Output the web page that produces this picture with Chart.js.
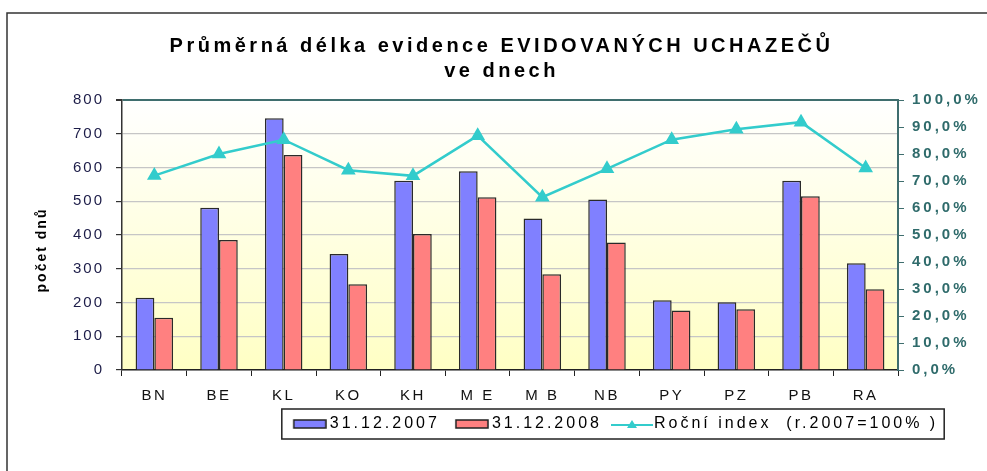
<!DOCTYPE html>
<html>
<head>
<meta charset="utf-8">
<script src="https://cdn.jsdelivr.net/npm/chart.js@4.4.1/dist/chart.umd.min.js"></script>
<style>
  html, body { margin: 0; padding: 0; background: #fff; }
  #wrap { position: relative; width: 987px; height: 471px; }
</style>
</head>
<body>
<div id="wrap"><canvas id="chart" width="987" height="471"></canvas></div>
<script>
// data
const regions = ["BN", "BE", "KL", "KO", "KH", "M E", "M B", "NB", "PY", "PZ", "PB", "RA"];
const days2007 = [214, 481, 746, 344, 561, 589, 449, 505, 207, 201, 561, 316];
const days2008 = [155, 385, 637, 254, 403, 512, 284, 378, 176, 180, 515, 239];
const yearIndex = [72.0, 80.0, 85.3, 74.0, 71.9, 86.8, 64.0, 74.5, 85.3, 89.2, 91.8, 74.8];
const seriesNames = ["31.12.2007", "31.12.2008", "Roční index  (r.2007=100% )"];

const blue = "#8080ff", red = "#ff8080", teal = "#33cccc";

// small legend swatches (drawn a bit to the right so the gap to the text is small)
function swatch(fill) {
    const c = document.createElement("canvas");
    c.width = 44; c.height = 10;
    const g = c.getContext("2d");
    g.fillStyle = fill;
    g.fillRect(11, 1, 32, 8);
    g.strokeStyle = "#222";
    g.lineWidth = 1.5;
    g.strokeRect(11, 1, 32, 8);
    return c;
}
function lineSwatch() {
    const c = document.createElement("canvas");
    c.width = 52; c.height = 12;
    const g = c.getContext("2d");
    g.strokeStyle = teal; g.lineWidth = 2;
    g.beginPath(); g.moveTo(8, 7); g.lineTo(50, 7); g.stroke();
    g.fillStyle = teal;
    g.beginPath(); g.moveTo(29, 2); g.lineTo(34, 10); g.lineTo(24, 10); g.closePath(); g.fill();
    return c;
}

function withSpacing(obj, method, sp, dx, dy) {
    const orig = obj[method];
    obj[method] = function (...args) {
        const ctx = this.ctx;
        const prev = ctx.letterSpacing;
        ctx.save();
        ctx.translate(dx || 0, dy || 0);
        ctx.letterSpacing = sp;
        const r = orig.apply(this, args);
        ctx.restore();
        ctx.letterSpacing = prev;
        return r;
    };
}

const spacing = {
    id: "spacing",
    beforeUpdate(chart) { chart.ctx.letterSpacing = "3px"; },
    beforeDraw(chart) { chart.ctx.letterSpacing = "3px"; },
    afterLayout(chart) {
        const y = chart.scales.y, x = chart.scales.x, t = chart.titleBlock;
        if (!y._spaced) {
            withSpacing(y, "drawLabels", "2px");
            withSpacing(y, "drawTitle", "2px", 0, 15);
            y._spaced = true;
        }
        if (!x._spaced) {
            withSpacing(x, "drawLabels", "2.5px");
            x._spaced = true;
        }
        if (t && !t._spaced) {
            withSpacing(t, "draw", "3.5px", 8, 0);
            t._spaced = true;
        }
    }
};

const decor = {
    id: "decor",
    beforeDraw(chart) {
        const { ctx, chartArea: a } = chart;
        ctx.save();
        const grad = ctx.createLinearGradient(0, a.top, 0, a.bottom);
        grad.addColorStop(0, "#ffffff");
        grad.addColorStop(1, "#ffffc4");
        ctx.fillStyle = grad;
        ctx.fillRect(a.left, a.top, a.right - a.left, a.bottom - a.top);
        // outer frame
        ctx.strokeStyle = "#333";
        ctx.lineWidth = 1.5;
        ctx.beginPath();
        ctx.moveTo(7, 471); ctx.lineTo(7, 13); ctx.lineTo(987, 13);
        ctx.stroke();
        ctx.restore();
    },
    afterLayout(chart) {
        const lg = chart.legend;
        const dx = 613 - (lg.left + lg.right) / 2;
        lg.left += dx; lg.right += dx;
        lg.top += 2; lg.bottom += 2;
    },
    afterDraw(chart) {
        const lg = chart.legend;
        const boxes = lg.legendHitBoxes;
        if (!boxes || !boxes.length) return;
        let l = Infinity, r = -Infinity, t = Infinity, b = -Infinity;
        boxes.forEach(h => {
            l = Math.min(l, h.left); r = Math.max(r, h.left + h.width);
            t = Math.min(t, h.top); b = Math.max(b, h.top + h.height);
        });
        const cy = (t + b) / 2;
        const ctx = chart.ctx;
        ctx.save();
        ctx.strokeStyle = "#222";
        ctx.lineWidth = 1.5;
        ctx.strokeRect(l - 6, cy - 15, r - l + 12, 30);
        ctx.restore();
    }
};

new Chart(document.getElementById("chart"), {
    type: "bar",
    data: {
        labels: regions,
        datasets: [
            { label: seriesNames[0], data: days2007, backgroundColor: blue, borderColor: "#2a2a2a",
              borderWidth: 1.5, yAxisID: "y", order: 2, pointStyle: swatch(blue) },
            { label: seriesNames[1], data: days2008, backgroundColor: red, borderColor: "#2a2a2a",
              borderWidth: 1.5, yAxisID: "y", order: 2, pointStyle: swatch(red) },
            { type: "line", label: seriesNames[2], data: yearIndex, borderColor: teal, backgroundColor: teal,
              borderWidth: 2.5, pointStyle: "triangle", pointRadius: 6, pointBackgroundColor: teal,
              pointBorderColor: teal, yAxisID: "y2", order: 1 }
        ]
    },
    options: {
        responsive: false,
        animation: false,
        layout: { padding: { left: 0, right: 0, top: 0, bottom: 31 } },
        datasets: { bar: { categoryPercentage: 0.58, barPercentage: 1.0 } },
        plugins: {
            title: {
                display: true,
                text: ["Průměrná délka evidence EVIDOVANÝCH UCHAZEČŮ", "ve dnech"],
                font: { family: "Liberation Sans", size: 20, weight: "bold", lineHeight: 1.25 },
                color: "#000",
                padding: { top: 34, bottom: 16 }
            },
            legend: {
                position: "bottom",
                labels: {
                    usePointStyle: true,
                    pointStyleWidth: 34,
                    boxHeight: 12,
                    padding: 10,
                    color: "#000",
                    font: { family: "Liberation Sans", size: 16 },
                    generateLabels(chart) {
                        return chart.data.datasets.map((ds, i) => ({
                            text: ds.label,
                            pointStyle: i === 2 ? lineSwatch() : ds.pointStyle,
                            fillStyle: ds.backgroundColor,
                            strokeStyle: ds.borderColor,
                            lineWidth: 0,
                            datasetIndex: i,
                            hidden: false
                        }));
                    }
                }
            },
            tooltip: { enabled: false }
        },
        scales: {
            x: {
                grid: { offset: true, drawOnChartArea: false, tickLength: 6, color: "#222" },
                border: { color: "#222", width: 1.5 },
                ticks: { color: "#111", padding: 11, font: { family: "Liberation Sans", size: 15 } },
                afterFit(s) { s.height = 34; }
            },
            y: {
                position: "left",
                min: 0, max: 800,
                ticks: { stepSize: 100, color: "#1c1c48", padding: 12,
                         font: { family: "Liberation Sans", size: 15 } },
                grid: {
                    color: c => c.tick && c.tick.value === 800 ? "#3f6e6e" : "#c6c6c6",
                    lineWidth: c => c.tick && c.tick.value === 800 ? 2 : 1.2,
                    tickColor: "#333", tickLength: 6
                },
                border: { color: "#333", width: 1.5 },
                title: { display: true, text: "počet dnů", color: "#000",
                         font: { family: "Liberation Sans", size: 14, weight: "bold" },
                         padding: { top: 34, bottom: 0 } },
                afterFit(s) { s.width = 122; }
            },
            y2: {
                position: "right",
                min: 0, max: 100,
                ticks: { stepSize: 10, color: "#2f6b6b", padding: 8,
                         font: { family: "Liberation Sans", size: 15, weight: "bold" },
                         callback: v => v.toFixed(1).replace(".", ",") + "%" },
                grid: { drawOnChartArea: false, tickColor: "#3f6e6e", tickLength: 6 },
                border: { color: "#3f6e6e", width: 2 },
                afterFit(s) { s.width = 89; }
            }
        }
    },
    plugins: [spacing, decor]
});
</script>
</body>
</html>
